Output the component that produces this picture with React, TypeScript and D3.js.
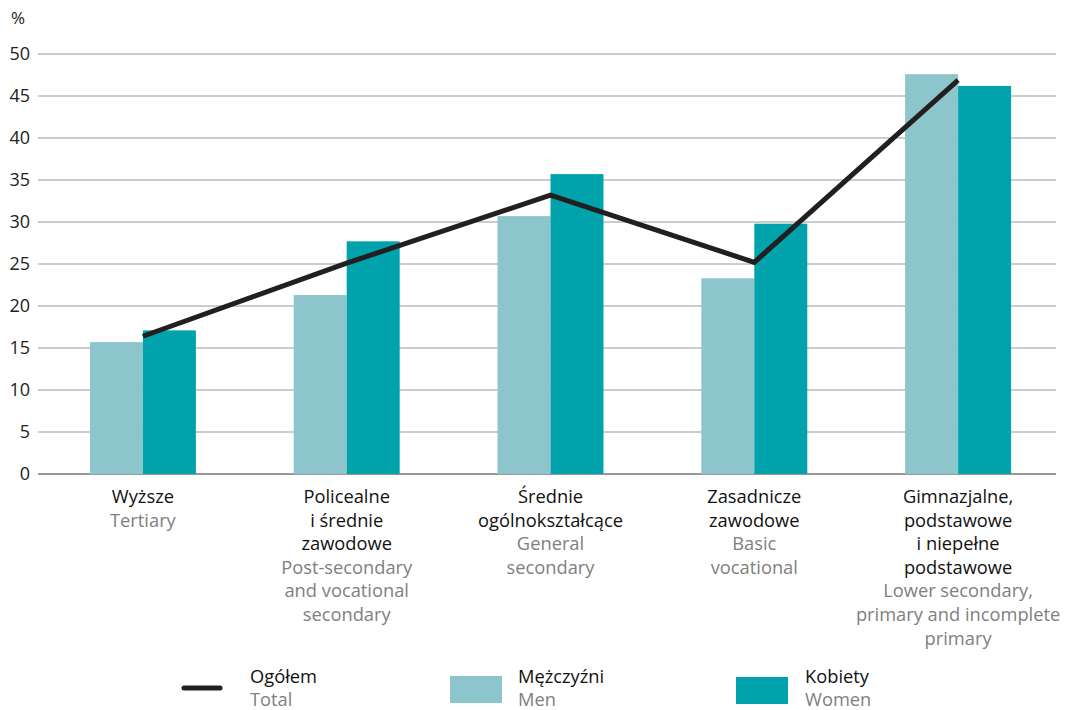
import React from "react";
import * as d3 from "d3";

const categoriesPl = [
  ["Wyższe"],
  ["Policealne", "i średnie", "zawodowe"],
  ["Średnie", "ogólnokształcące"],
  ["Zasadnicze", "zawodowe"],
  ["Gimnazjalne,", "podstawowe", "i niepełne", "podstawowe"],
];
const categoriesEn = [
  ["Tertiary"],
  ["Post-secondary", "and vocational", "secondary"],
  ["General", "secondary"],
  ["Basic", "vocational"],
  ["Lower secondary,", "primary and incomplete", "primary"],
];
const men = [15.7, 21.3, 30.7, 23.3, 47.6];
const women = [17.1, 27.7, 35.7, 29.8, 46.2];
const total = [16.4, 25.1, 33.2, 25.2, 46.9];
const yTicks = [0, 5, 10, 15, 20, 25, 30, 35, 40, 45, 50];

const W = 1074;
const H = 710;
const FONT = "'Open Sans', 'Noto Sans', sans-serif";
const MEN_C = "#8cc6cc";
const WOMEN_C = "#00a3ac";
const LINE_C = "#231f20";
const GRAY = "#808080";
const FS = 18.3;

export default function App() {
  const idx = d3.range(categoriesPl.length);
  const x = d3.scaleBand<number>().domain(idx).range([41, 1060]).paddingInner(0.48).paddingOuter(0.24);
  const y = d3.scaleLinear().domain([0, 50]).range([474, 54]);
  const bw = x.bandwidth() / 2;
  const cx = (i: number) => (x(i) as number) + x.bandwidth() / 2;
  const line = d3
    .line<number>()
    .x((_, i) => cx(i))
    .y((d) => y(d));
  const lh = 23.6;
  return (
    <svg width={W} height={H} style={{ position: "absolute", left: 0, top: 0, background: "#fff" }} fontFamily={FONT}>
      <text x={11} y={24} fontSize={17} fill="#222">%</text>
      {yTicks.map((t) => (
        <g key={t}>
          <line x1={38} x2={1056} y1={y(t)} y2={y(t)} stroke={t === 0 ? "#777" : "#9a9a9a"} strokeWidth={t === 0 ? 1.6 : 1.2} />
          <text x={30} y={y(t)} dy="0.36em" textAnchor="end" fontSize={18} fill="#222">{t}</text>
        </g>
      ))}
      {idx.map((i) => (
        <g key={i}>
          <rect x={x(i)} y={y(men[i])} width={bw} height={y(0) - y(men[i])} fill={MEN_C} />
          <rect x={(x(i) as number) + bw} y={y(women[i])} width={bw} height={y(0) - y(women[i])} fill={WOMEN_C} />
        </g>
      ))}
      <path d={line(total) || ""} fill="none" stroke={LINE_C} strokeWidth={5} strokeLinejoin="miter" />
      {idx.map((i) => (
        <text key={i} x={cx(i)} y={503} textAnchor="middle" fontSize={FS}>
          {categoriesPl[i].map((s, k) => (
            <tspan key={"p" + k} x={cx(i)} dy={k === 0 ? 0 : lh} fill="#111">{s}</tspan>
          ))}
          {categoriesEn[i].map((s, k) => (
            <tspan key={"e" + k} x={cx(i)} dy={lh} fill={GRAY}>{s}</tspan>
          ))}
        </text>
      ))}
      <g fontSize={FS}>
        <line x1={184} x2={220} y1={688} y2={688} stroke={LINE_C} strokeWidth={5} strokeLinecap="round" />
        <text x={250} y={683} fill="#111">Ogółem</text>
        <text x={250} y={706} fill={GRAY}>Total</text>
        <rect x={450} y={676} width={52} height={27} fill={MEN_C} />
        <text x={518} y={683} fill="#111">Mężczyźni</text>
        <text x={518} y={706} fill={GRAY}>Men</text>
        <rect x={736} y={677} width={52} height={27} fill={WOMEN_C} />
        <text x={805} y={683} fill="#111">Kobiety</text>
        <text x={805} y={706} fill={GRAY}>Women</text>
      </g>
    </svg>
  );
}
